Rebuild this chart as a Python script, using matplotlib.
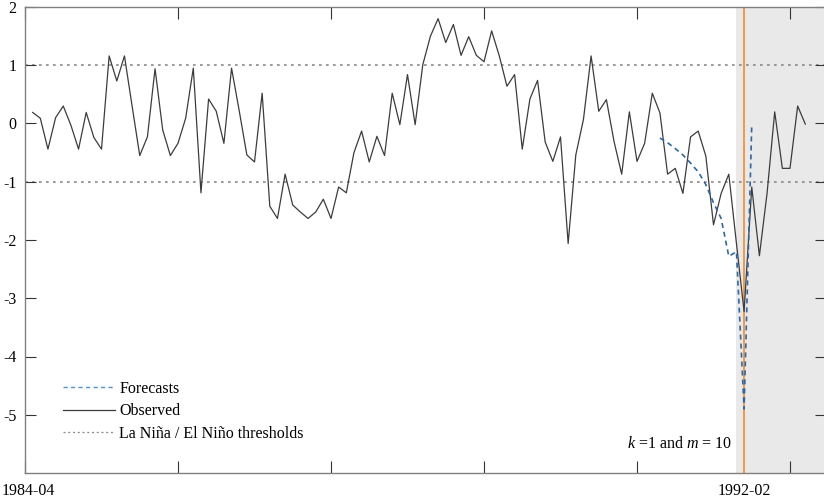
import numpy as np
import matplotlib
matplotlib.use("Agg")
import matplotlib.pyplot as plt

plt.rcParams['font.family'] = ['Liberation Serif', 'DejaVu Serif']
plt.rcParams['axes.unicode_minus'] = False
plt.rcParams['mathtext.fontset'] = 'custom'
plt.rcParams['mathtext.rm'] = 'Liberation Serif'
plt.rcParams['mathtext.it'] = 'Liberation Serif:italic'

# observed index, months since 1984-04
observed = [0.19, 0.09, -0.44, 0.10, 0.30, -0.03, -0.44, 0.19, -0.24, -0.44,
            1.16, 0.73, 1.16, 0.30, -0.55, -0.23, 0.94, -0.11, -0.55, -0.34,
            0.09, 0.95, -1.19, 0.42, 0.21, -0.34, 0.95, 0.22, -0.54, -0.66,
            0.52, -1.42, -1.63, -0.87, -1.40, -1.52, -1.63, -1.52, -1.30, -1.63,
            -1.09, -1.19, -0.50, -0.13, -0.66, -0.22, -0.55, 0.52, -0.02, 0.84,
            -0.02, 1.01, 1.50, 1.80, 1.39, 1.70, 1.17, 1.49, 1.17, 1.06,
            1.59, 1.16, 0.64, 0.84, -0.44, 0.42, 0.74, -0.32, -0.65, -0.23,
            -2.06, -0.54, 0.07, 1.16, 0.21, 0.41, -0.31, -0.87, 0.20, -0.65,
            -0.34, 0.52, 0.18, -0.87, -0.77, -1.20, -0.23, -0.13, -0.56, -1.74,
            -1.20, -0.87, -2.06, -3.23, -1.09, -2.27, -1.20, 0.20, -0.77, -0.77,
            0.30, -0.01]
obs_month = np.arange(1, len(observed) + 1)

fc_month = np.arange(83, 96)
forecast = [-0.25, -0.33, -0.43, -0.54, -0.68, -0.83, -1.05, -1.36, -1.63,
            -2.28, -2.20, -4.90, -0.03]

thresholds = [-1, 1]
event_month = 94
shade_start = 93
label_months = [0.5, 94]
label_text = ['1984-04', '1992-02']

fig = plt.figure(figsize=(8.24, 4.99), dpi=100)
ax = fig.add_axes([25/824, 26/499, 801/824, 466/499])

xmax = 801/7.65
ax.axvspan(shade_start, xmax + 2, color='#e9e9e9', lw=0, zorder=0)
for t in thresholds:
    ax.axhline(t, color='#8a8a8a', lw=1.2, ls=(0, (1.6, 2.6)), zorder=1)
ax.axvline(event_month, color='#f39237', lw=1.3, zorder=2)

ax.plot(obs_month, observed, color='#3c3c3c', lw=0.9, zorder=3, label='Observed')
ax.plot(fc_month, forecast, color='#2a68a6', lw=1.2, ls=(0, (3, 2.4)), zorder=4,
        label='Forecasts')

# legend handles in the reference order
h_fc, = ax.plot([], [], color='#4f8fcc', lw=1.0, ls=(0, (3, 2.4)))
h_obs, = ax.plot([], [], color='#3c3c3c', lw=0.9)
h_thr, = ax.plot([], [], color='#8a8a8a', lw=0.9, ls=(0, (1.6, 2.2)))
ax.legend([h_fc, h_obs, h_thr], ['Forecasts', 'Observed', 'La Niña / El Niño thresholds'],
          loc='lower left', bbox_to_anchor=(0.047, 0.067), frameon=False,
          fontsize=11.5, handlelength=3.3, handletextpad=0.25, labelspacing=0.4,
          borderpad=0, borderaxespad=0)

ax.text(92.4, -5.5, r'$k$ =$\mathit{1}$ and $m$ = $\mathit{10}$', ha='right', va='center',
        fontsize=11.5)

ax.set_xlim(0, xmax)
ax.set_ylim(-6, 2)
ax.set_yticks(np.arange(-5, 3))
ax.set_yticklabels([str(v) for v in range(-5, 3)])
ax.set_xticks(label_months)
ax.set_xticklabels(label_text)
ax.set_xticks(np.arange(0, 105, 20), minor=True)
ax.tick_params(axis='x', which='major', length=0, pad=7.5, labelsize=11.5)
ax.tick_params(axis='x', which='minor', direction='in', length=8.5, top=True,
               color='#333333', width=0.8)
ax.tick_params(axis='y', direction='in', length=8, right=True, color='#333333',
               width=0.8, pad=6, labelsize=11.5)
for s in ax.spines.values():
    s.set_color('#808080')
    s.set_linewidth(1.0)
ax.spines['right'].set_visible(False)

fig.savefig('out.png', dpi=100)
